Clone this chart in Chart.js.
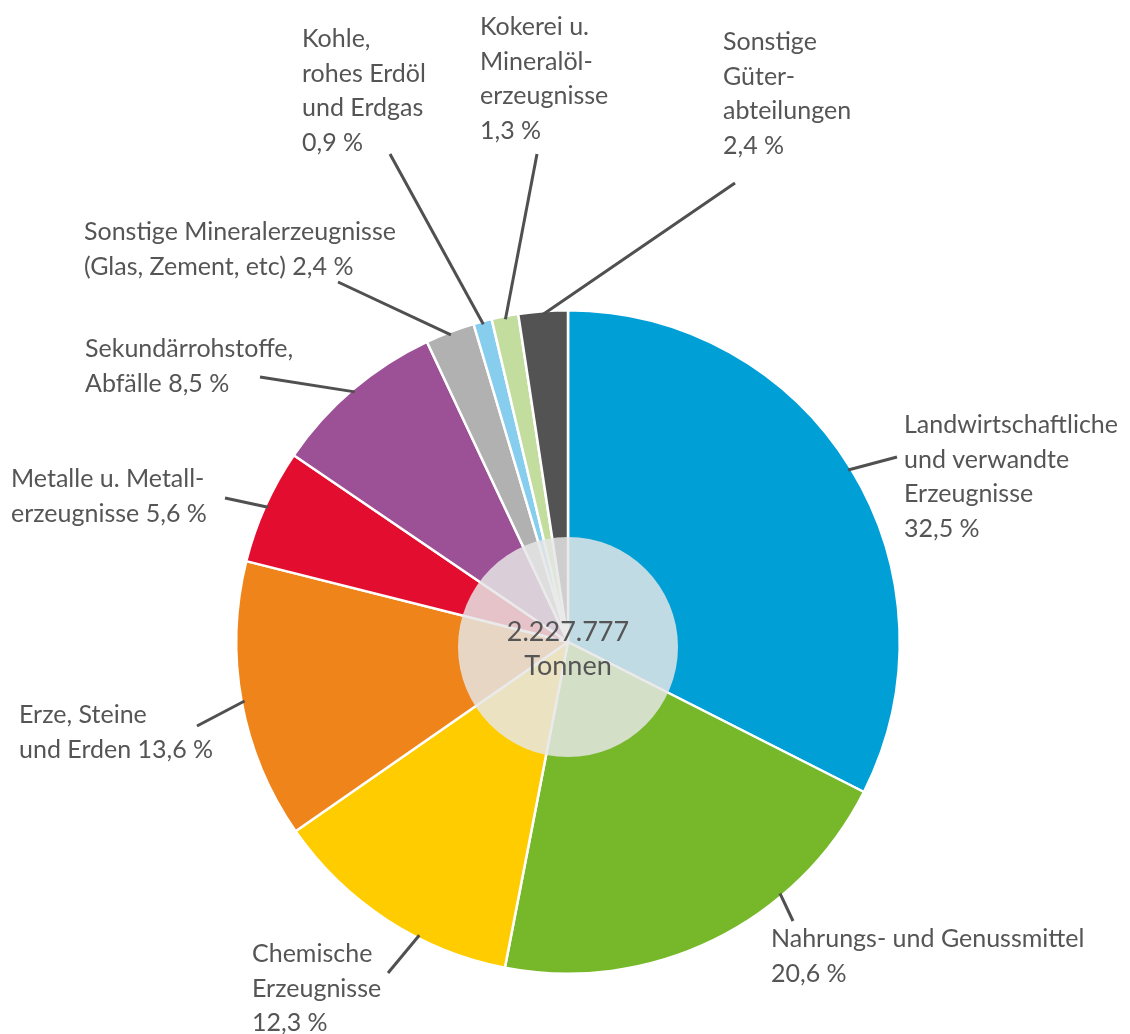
<!DOCTYPE html>
<html>
<head>
<meta charset="utf-8">
<script src="https://cdn.jsdelivr.net/npm/chart.js@4"></script>
<style>
  html, body { margin: 0; padding: 0; background: #fff; }
  #wrap { width: 1130px; height: 1034px; position: relative; }
</style>
</head>
<body>
<div id="wrap"><canvas id="chart" width="1130" height="1034"></canvas></div>
<script>
const categories = [
  'Landwirtschaftliche und verwandte Erzeugnisse',
  'Nahrungs- und Genussmittel',
  'Chemische Erzeugnisse',
  'Erze, Steine und Erden',
  'Metalle u. Metallerzeugnisse',
  'Sekundärrohstoffe, Abfälle',
  'Sonstige Mineralerzeugnisse (Glas, Zement, etc)',
  'Kohle, rohes Erdöl und Erdgas',
  'Kokerei u. Mineralölerzeugnisse',
  'Sonstige Güterabteilungen',
]
const shares = [32.5, 20.6, 12.3, 13.6, 5.6, 8.5, 2.4, 0.9, 1.3, 2.4]
// label text lines, {v} is replaced by the share
const labelLines = [
  ['Landwirtschaftliche', 'und verwandte', 'Erzeugnisse', '{v}'],
  ['Nahrungs- und Genussmittel', '{v}'],
  ['Chemische', 'Erzeugnisse', '{v}'],
  ['Erze, Steine', 'und Erden {v}'],
  ['Metalle u. Metall-', 'erzeugnisse {v}'],
  ['Sekundärrohstoffe,', 'Abfälle {v}'],
  ['Sonstige Mineralerzeugnisse', '(Glas, Zement, etc) {v}'],
  ['Kohle,', 'rohes Erdöl', 'und Erdgas', '{v}'],
  ['Kokerei u.', 'Mineralöl-', 'erzeugnisse', '{v}'],
  ['Sonstige', 'Güter-', 'abteilungen', '{v}'],
]
const totalText = ['2.227.777', 'Tonnen']

const colors = ['#009fd6', '#76b82a', '#ffcc00', '#ee841a', '#e30e2f', '#9c5095', '#b1b1b1', '#86cdee', '#c3dd9e', '#535353']

// label placement: text x, first baseline y, leader end, anchor position inside slice (0..1)
const labelPos = [
  { x: 904, y: 433, end: [897, 457], f: 0.5 },
  { x: 771, y: 947, end: [793, 921], f: 0.31 },
  { x: 252, y: 962, end: [388, 973], f: 0.36 },
  { x: 19, y: 723, end: [197, 726], f: 0.5 },
  { x: 11, y: 487, end: [225, 498], f: 0.5 },
  { x: 85, y: 357, end: [260, 377], f: 0.5 },
  { x: 84, y: 240, end: [338, 282], f: 0.5 },
  { x: 302, y: 47, end: [390, 154], f: 0.5 },
  { x: 480, y: 35, end: [537, 154], f: 0.5 },
  { x: 723, y: 50, end: [735, 183], f: 0.5 },
]

const FONT = 'Lato, "Open Sans", sans-serif'
const TEXT = '#555555'

function fmt(v) {
  return v.toFixed(1).replace('.', ',') + ' %'
}

const labelPlugin = {
  id: 'leaderLabels',
  afterDatasetsDraw(chart) {
    const ctx = chart.ctx
    const arcs = chart.getDatasetMeta(0).data
    ctx.save()
    // leader lines
    ctx.strokeStyle = '#505050'
    ctx.lineWidth = 3
    arcs.forEach((arc, i) => {
      const p = labelPos[i]
      const a = arc.startAngle + (arc.endAngle - arc.startAngle) * p.f
      const r = arc.outerRadius - 3
      ctx.beginPath()
      ctx.moveTo(arc.x + Math.cos(a) * r, arc.y + Math.sin(a) * r)
      ctx.lineTo(p.end[0], p.end[1])
      ctx.stroke()
    })
    // center overlay
    const c = arcs[0]
    ctx.fillStyle = 'rgba(230,230,230,0.84)'
    ctx.beginPath()
    ctx.arc(c.x, c.y + 5, 110, 0, Math.PI * 2)
    ctx.fill()
    ctx.fillStyle = TEXT
    ctx.textAlign = 'center'
    ctx.textBaseline = 'alphabetic'
    ctx.font = '27px ' + FONT
    ctx.fillText(totalText[0], c.x, c.y - 1)
    ctx.fillText(totalText[1], c.x, c.y + 33)
    // labels
    ctx.textAlign = 'left'
    ctx.font = '25px ' + FONT
    labelLines.forEach((lines, i) => {
      const p = labelPos[i]
      lines.forEach((t, k) => {
        ctx.fillText(t.replace('{v}', fmt(shares[i])), p.x, p.y + k * 34.5)
      })
    })
    ctx.restore()
  }
}

new Chart(document.getElementById('chart'), {
  type: 'pie',
  data: {
    labels: categories,
    datasets: [{
      data: shares,
      backgroundColor: colors,
      borderColor: '#ffffff',
      borderWidth: 2.5,
    }],
  },
  options: {
    responsive: false,
    animation: false,
    layout: { padding: { left: 235, right: 229, top: 309, bottom: 59 } },
    plugins: {
      legend: { display: false },
      tooltip: { enabled: false },
    },
  },
  plugins: [labelPlugin],
})
</script>
</body>
</html>
